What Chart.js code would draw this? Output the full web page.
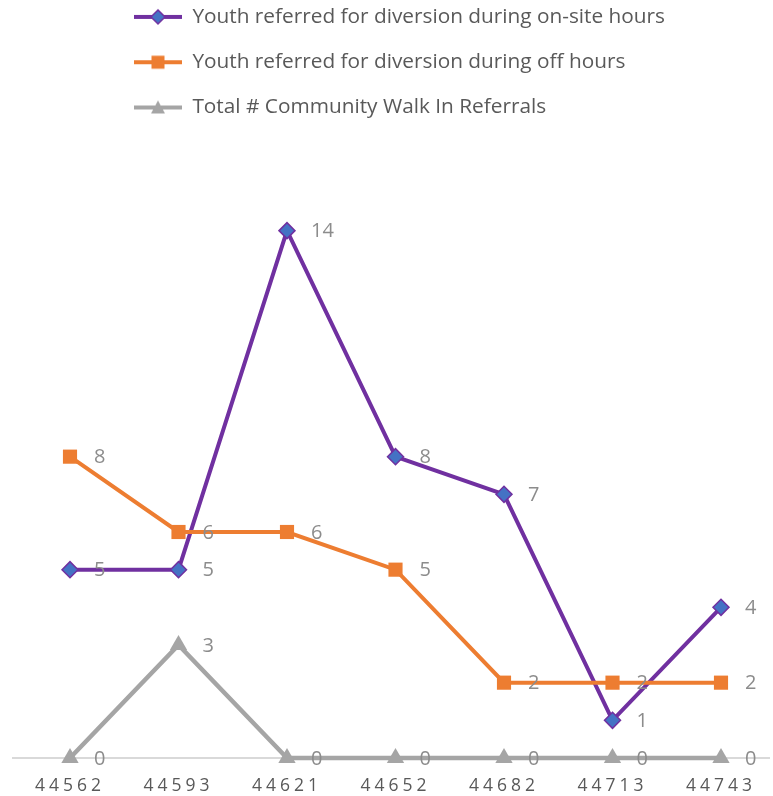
<!DOCTYPE html>
<html>
<head>
<meta charset="utf-8">
<script src="https://cdn.jsdelivr.net/npm/chart.js@4"></script>
<style>
  html, body { margin: 0; padding: 0; background: #fff; }
  canvas { display: block; }
</style>
</head>
<body>
<canvas id="myChart" width="773" height="796"></canvas>
<script>
// data
const months = ['44562', '44593', '44621', '44652', '44682', '44713', '44743'];
const onSite = [5, 5, 14, 8, 7, 1, 4];
const offHours = [8, 6, 6, 5, 2, 2, 2];
const walkIn = [0, 3, 0, 0, 0, 0, 0];

const FONT = "'Open Sans', sans-serif";

// little legend icons: line with marker in the middle
function legendIcon(color, fill, shape) {
  const c = document.createElement('canvas');
  c.width = 48;
  c.height = 20;
  const g = c.getContext('2d');
  g.strokeStyle = color;
  g.lineWidth = 4;
  g.beginPath();
  g.moveTo(0, 10);
  g.lineTo(48, 10);
  g.stroke();
  g.fillStyle = fill;
  g.beginPath();
  if (shape === 'diamond') {
    g.moveTo(24, 3); g.lineTo(31, 10); g.lineTo(24, 17); g.lineTo(17, 10);
    g.closePath();
    g.fill();
    g.lineWidth = 1.5;
    g.stroke();
  } else if (shape === 'square') {
    g.rect(17.5, 3.5, 13, 13);
    g.fill();
  } else {
    g.moveTo(24, 3); g.lineTo(31, 16); g.lineTo(17, 16);
    g.closePath();
    g.fill();
  }
  return c;
}

const icons = [
  legendIcon('#7030a0', '#4472c4', 'diamond'),
  legendIcon('#ed7d31', '#ed7d31', 'square'),
  legendIcon('#a5a5a5', '#a5a5a5', 'triangle'),
];

// value labels right of each point
const valueLabels = {
  id: 'valueLabels',
  afterDatasetsDraw(chart) {
    const ctx = chart.ctx;
    ctx.save();
    ctx.letterSpacing = '0px';
    ctx.font = '20px ' + FONT;
    ctx.fillStyle = '#8c8c8c';
    ctx.textAlign = 'left';
    ctx.textBaseline = 'middle';
    chart.data.datasets.forEach((ds, i) => {
      const meta = chart.getDatasetMeta(i);
      meta.data.forEach((pt, j) => {
        ctx.fillText(String(ds.data[j]), pt.x + 24, pt.y + 1);
      });
    });
    ctx.restore();
  },
};

// baseline across the whole width + legend placement + spaced tick labels
const layoutTweaks = {
  id: 'layoutTweaks',
  beforeDraw(chart) {
    const lg = chart.legend;
    if (lg) {
      lg.left = 109.5;
      lg.top = -18;
    }
    const xs = chart.scales.x;
    if (!xs._spaced) {
      const orig = xs.drawLabels;
      xs.drawLabels = function (area) {
        this.ctx.save();
        this.ctx.letterSpacing = '4px';
        orig.call(this, area);
        this.ctx.restore();
      };
      xs._spaced = true;
    }
  },
  beforeDatasetsDraw(chart) {
    const ctx = chart.ctx;
    const y = chart.scales.y.getPixelForValue(0);
    ctx.save();
    ctx.strokeStyle = '#d9d9d9';
    ctx.lineWidth = 2;
    ctx.beginPath();
    ctx.moveTo(12, y);
    ctx.lineTo(770, y);
    ctx.stroke();
    ctx.restore();
  },
};

const config = {
  type: 'line',
  data: {
    labels: months,
    datasets: [
      {
        label: 'Youth referred for diversion during on-site hours',
        data: onSite,
        borderColor: '#7030a0',
        backgroundColor: '#4472c4',
        borderWidth: 4,
        pointStyle: 'rectRot',
        pointRadius: 8,
        pointBorderWidth: 1.5,
        pointBorderColor: '#7030a0',
        pointBackgroundColor: '#4472c4',
        tension: 0,
        order: 3,
        clip: false,
      },
      {
        label: 'Youth referred for diversion during off hours',
        data: offHours,
        borderColor: '#ed7d31',
        backgroundColor: '#ed7d31',
        borderWidth: 4,
        pointStyle: 'rect',
        pointRadius: 10,
        pointBorderWidth: 0,
        pointBackgroundColor: '#ed7d31',
        tension: 0,
        order: 2,
        clip: false,
      },
      {
        label: 'Total # Community Walk In Referrals',
        data: walkIn,
        borderColor: '#a5a5a5',
        backgroundColor: '#a5a5a5',
        borderWidth: 4.5,
        pointStyle: 'triangle',
        pointRadius: 10,
        pointBorderWidth: 0,
        pointBackgroundColor: '#a5a5a5',
        tension: 0,
        order: 1,
        clip: false,
      },
    ],
  },
  options: {
    responsive: false,
    animation: false,
    layout: {
      padding: { left: 70, right: 52, top: 0, bottom: -19 },
    },
    plugins: {
      tooltip: { enabled: false },
      legend: {
        position: 'top',
        align: 'start',
        labels: {
          usePointStyle: true,
          pointStyleWidth: 48,
          boxHeight: 20,
          padding: 24.5,
          color: '#595959',
          font: { family: FONT, size: 20.8 },
          sort: (a, b) => a.datasetIndex - b.datasetIndex,
          generateLabels(chart) {
            const items = Chart.defaults.plugins.legend.labels.generateLabels(chart);
            items.forEach((it) => { it.pointStyle = icons[it.datasetIndex]; });
            return items;
          },
        },
      },
    },
    scales: {
      x: {
        offset: false,
        grid: { display: false, drawTicks: false, tickLength: 0 },
        border: { display: false },
        ticks: {
          color: '#595959',
          padding: 18,
          maxRotation: 0,
          autoSkip: false,
          font: { family: FONT, size: 17.5 },
        },
      },
      y: {
        display: false,
        min: 0,
        max: 16.25,
      },
    },
  },
  plugins: [valueLabels, layoutTweaks],
};

var myChart = new Chart(document.getElementById('myChart'), config);
</script>
</body>
</html>
